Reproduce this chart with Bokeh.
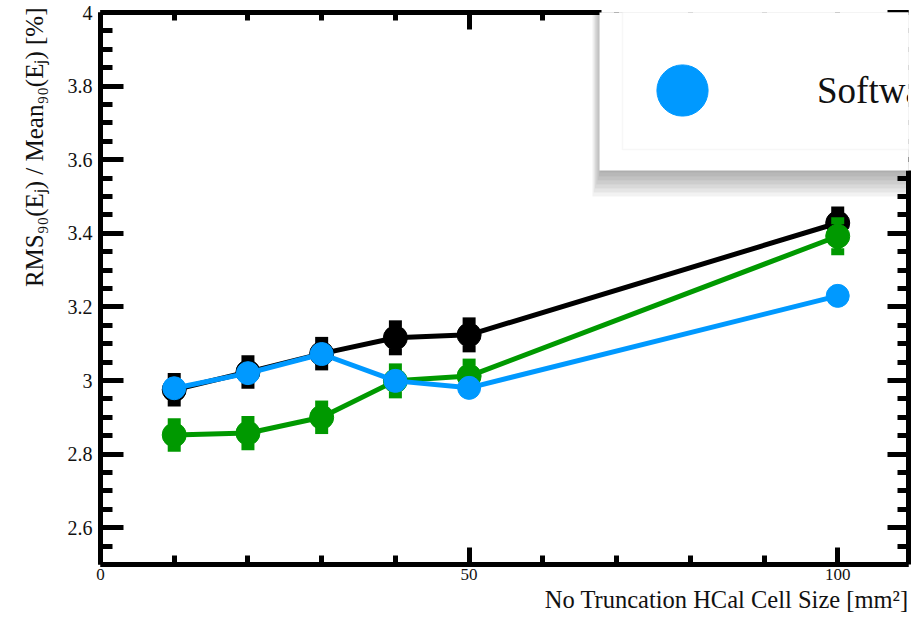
import math
from bokeh.plotting import figure
from bokeh.models import (Range1d, LinearAxis, FixedTicker, CustomJSTickFormatter,
                          BoxAnnotation, Legend, LegendItem, ColumnDataSource, Title)
from bokeh.embed import file_html
from bokeh.resources import INLINE

# ---- data ----
cell_size = [10, 20, 30, 40, 50, 100]

black_vals = [2.975, 3.023, 3.073, 3.116, 3.124, 3.428]
black_err = [0.036, 0.036, 0.036, 0.038, 0.038, 0.035]

green_vals = [2.852, 2.857, 2.900, 2.999, 3.012, 3.392]
green_err = [0.036, 0.037, 0.036, 0.038, 0.038, 0.042]

blue_vals = [2.979, 3.020, 3.072, 2.999, 2.980, 3.230]
blue_label = "Software Compensation"

x_major = [0, 50, 100]
x_minor = [10, 20, 30, 40, 60, 70, 80, 90, 100]
y_major = [2.6, 2.8, 3.0, 3.2, 3.4, 3.6, 3.8, 4.0]
y_minor = [2.5 + 0.05 * i for i in range(31)]

x_title = "No Truncation HCal Cell Size [mm²]"
y_title = "RMS₉₀(Eⱼ) / Mean₉₀(Eⱼ) [%]"

BLACK = "#000000"
GREEN = "#009900"
BLUE = "#0099ff"
FONT = "Liberation Serif"

p = figure(width=911, height=617, x_range=Range1d(0, 109.6), y_range=Range1d(2.5, 4.0),
           output_backend="svg", toolbar_location=None,
           min_border_left=100, min_border_right=3, min_border_top=12, min_border_bottom=53)
p.xgrid.visible = False
p.ygrid.visible = False
p.outline_line_color = None
p.background_fill_color = "white"
p.border_fill_color = "white"

xticker = FixedTicker(ticks=x_major, minor_ticks=x_minor)
yticker = FixedTicker(ticks=y_major, minor_ticks=y_minor)


def style_axis(ax, major_in, minor_in, labels=True):
    ax.axis_line_width = 5
    ax.axis_line_color = "black"
    ax.major_tick_line_width = 5
    ax.minor_tick_line_width = 5
    ax.major_tick_line_color = "black"
    ax.minor_tick_line_color = "black"
    ax.major_tick_in = major_in
    ax.major_tick_out = 0
    ax.minor_tick_in = minor_in
    ax.minor_tick_out = 0
    ax.major_label_text_font = FONT
    ax.major_label_text_color = "#111111"
    if not labels:
        ax.major_label_text_font_size = "1px"
        ax.major_label_text_color = None
        ax.major_label_standoff = 0


xax = p.xaxis[0]
xax.ticker = xticker
style_axis(xax, 17, 9)
xax.major_label_text_font_size = "17px"
xax.major_label_standoff = 4

yax = p.yaxis[0]
yax.ticker = yticker
style_axis(yax, 23, 12)
yax.major_label_text_font_size = "20px"
yax.major_label_standoff = 8
yax.formatter = CustomJSTickFormatter(code="return Number(tick.toFixed(1)).toString();")

# axis titles, aligned to the right / top end of the frame
p.add_layout(Title(text=x_title, align="right", text_font=FONT, text_font_size="24.5px",
                   text_font_style="normal", text_color="#111111", standoff=3, offset=0),
             "below")
p.add_layout(Title(text=y_title, align="right", text_font=FONT, text_font_size="25px",
                   text_font_style="normal", text_color="#111111", standoff=33, offset=-5),
             "left")

# mirrored axes (their far part lies beneath the legend panel)
top_ax = LinearAxis(ticker=xticker, bounds=(0, 68))
style_axis(top_ax, 17, 8, labels=False)
p.add_layout(top_ax, "above")

right_ax = LinearAxis(ticker=yticker, bounds=(2.5, 3.57))
style_axis(right_ax, 21, 11, labels=False)
p.add_layout(right_ax, "right")


def draw_series(vals, errs, color, size):
    data = dict(x=cell_size, y=vals)
    if errs is not None:
        data["lo"] = [v - e for v, e in zip(vals, errs)]
        data["hi"] = [v + e for v, e in zip(vals, errs)]
    src = ColumnDataSource(data)
    if errs is not None:
        p.segment(x0="x", y0="lo", x1="x", y1="hi", line_width=7, line_color=color, source=src)
        p.scatter("x", "hi", marker="dash", size=13, line_width=7, line_color=color, source=src)
        p.scatter("x", "lo", marker="dash", size=13, line_width=7, line_color=color, source=src)
    p.line("x", "y", line_width=5, line_color=color, line_join="round", source=src)
    return p.scatter("x", "y", size=size, fill_color=color, line_color=color, line_width=1, source=src)


draw_series(black_vals, black_err, BLACK, 24)
draw_series(green_vals, green_err, GREEN, 24)
blue_r = draw_series(blue_vals, None, BLUE, 23)

# ---- legend panel (partially outside the window) ----
for i in range(8):
    p.add_layout(BoxAnnotation(left=601 - 1.3 * i, right=980, top=-60, bottom=168 + 4 * i,
                               left_units="canvas", right_units="canvas",
                               top_units="canvas", bottom_units="canvas",
                               fill_color="black", fill_alpha=0.05, line_color=None))
p.add_layout(BoxAnnotation(left=599, right=980, top=-60, bottom=170,
                           left_units="canvas", right_units="canvas",
                           top_units="canvas", bottom_units="canvas",
                           fill_color="white", fill_alpha=1, line_color=None))
p.add_layout(BoxAnnotation(left=622, right=980, top=-60, bottom=149,
                           left_units="canvas", right_units="canvas",
                           top_units="canvas", bottom_units="canvas",
                           fill_color="white", fill_alpha=1, line_color="#e4e4e4", line_width=1.5))

legend = Legend(items=[LegendItem(label=blue_label, renderers=[blue_r])],
                location=(518, 410), glyph_width=128, glyph_height=128,
                padding=0, margin=0, spacing=0, label_standoff=71,
                label_text_font=FONT, label_text_font_size="37px",
                label_text_baseline="middle", label_text_color="#111111",
                border_line_color=None, background_fill_alpha=0)
p.add_layout(legend)

open("out.html", "w").write(file_html(p, INLINE))
